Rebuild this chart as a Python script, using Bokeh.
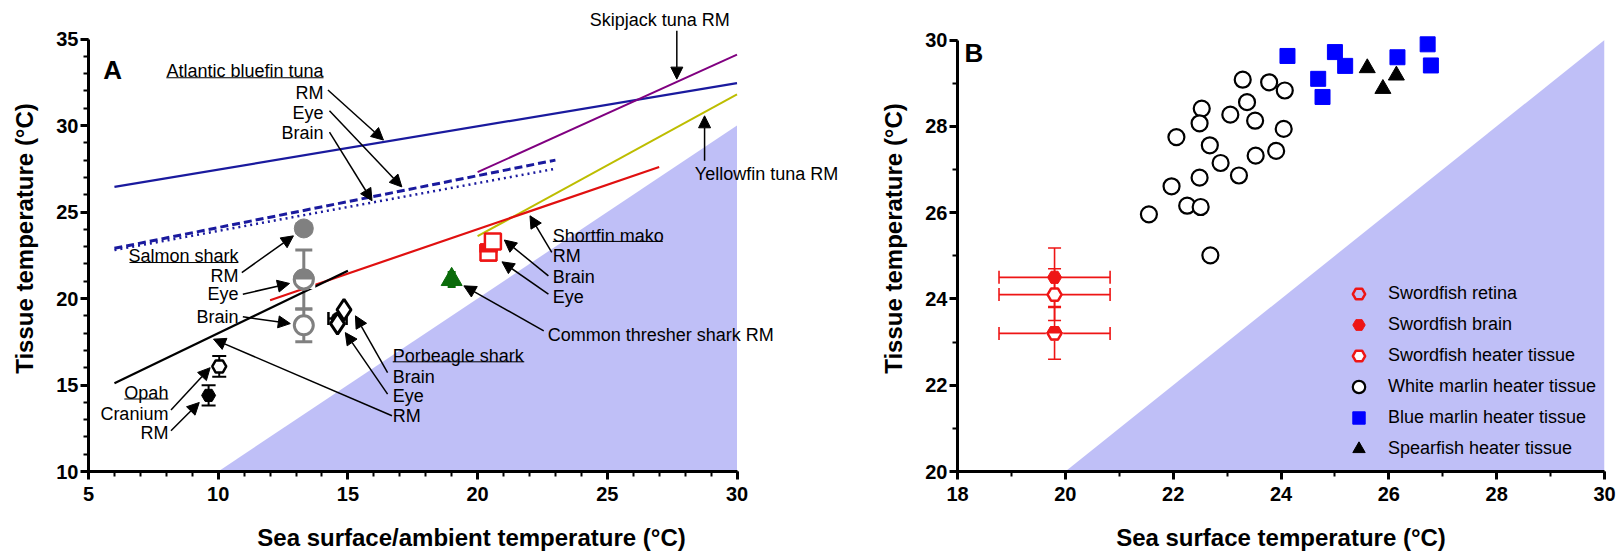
import math
from bokeh.plotting import figure
from bokeh.layouts import row
from bokeh.models import (Range1d, FixedTicker, ColumnDataSource, Whisker, TeeHead,
                          Arrow, NormalHead, Legend, LegendItem)
from bokeh.core.properties import value
from bokeh.embed import file_html
from bokeh.resources import INLINE

# ====================== DATA : panel A ======================
# regression lines (end points)
bluefin_rm_x = [6, 30];     bluefin_rm_y = [26.45, 32.45]
bluefin_eye_x = [6, 23];    bluefin_eye_y = [22.9, 28.0]
bluefin_brain_x = [6, 23];  bluefin_brain_y = [22.8, 27.5]
skipjack_rm_x = [20, 30];   skipjack_rm_y = [27.3, 34.1]
yellowfin_rm_x = [20, 30];  yellowfin_rm_y = [23.6, 31.8]
mako_rm_x = [12, 27];       mako_rm_y = [19.9, 27.6]
porbeagle_rm_x = [6, 15];   porbeagle_rm_y = [15.1, 21.6]

# salmon shark: RM, eye, brain
salmon_x = [13.3, 13.3, 13.3]
salmon_y = [24.05, 21.1, 18.45]
salmon_err = [0.25, 1.7, 0.95]
# opah: RM, cranium
opah_x = [9.63, 10.04]
opah_y = [14.4, 16.07]
opah_err = [0.58, 0.6]
# porbeagle shark: RM, eye, brain
porbeagle_x = [14.6, 14.6, 14.85]
porbeagle_y = [18.85, 18.55, 19.35]
porbeagle_rm_xerr = [0.35]
# shortfin mako: eye, brain
mako_x = [20.42, 20.59]
mako_y = [22.66, 23.3]
# common thresher shark RM
thresher_x = [19.0]
thresher_y = [21.1]
thresher_err = [0.4]

shade_a_x = [10, 30, 30]
shade_a_y = [10, 30, 10]
a_xticks = [5, 10, 15, 20, 25, 30]
a_yticks = [10, 15, 20, 25, 30, 35]

# ====================== DATA : panel B ======================
sword_x = [19.8, 19.8, 19.8]          # retina, brain, heater
sword_y = [23.2, 24.5, 24.1]
sword_yerr = [0.6, 0.68, 0.6]
sword_xerr = [1.03, 1.03, 1.03]

white_marlin_x = [23.29, 23.78, 24.07, 23.37, 22.53, 23.06, 22.49, 23.52, 22.06, 24.05,
                  22.68, 23.53, 23.91, 22.88, 23.22, 22.49, 21.97, 22.26, 22.51, 21.55, 22.69]
white_marlin_y = [29.08, 29.02, 28.83, 28.56, 28.41, 28.27, 28.07, 28.13, 27.75, 27.94,
                  27.56, 27.32, 27.43, 27.15, 26.86, 26.81, 26.61, 26.16, 26.13, 25.96, 25.01]
blue_marlin_x = [24.12, 25.0, 25.19, 24.69, 24.77, 26.16, 26.72, 26.78]
blue_marlin_y = [29.63, 29.72, 29.40, 29.10, 28.68, 29.60, 29.90, 29.41]
spearfish_x = [25.60, 26.14, 25.89]
spearfish_y = [29.35, 29.18, 28.87]

shade_b_x = [20, 30, 30]
shade_b_y = [20, 30, 20]
b_xticks = [18, 20, 22, 24, 26, 28, 30]
b_yticks = [20, 22, 24, 26, 28, 30]

# ====================== STYLE / LAYOUT ======================
FONT = "Liberation Sans"
SHADE = "#bfbff7"
NAVY = "#1a1a9e"
RED = "#ee1515"
GRAY = "#808080"

W_A, W_B, H = 862, 759, 554
BORDER_T, BORDER_B = 5, 83          # shared (row aligns frames)
A_L, A_R = 88, 8
B_L, B_R = 95, 17
PPU_AX, PPU_AY = 25.94, 17.3
PPU_BY = 43.15
FRAME_H = H - BORDER_T - BORDER_B
a_xend = 5 + (W_A - A_L - A_R) / PPU_AX
a_yend = 10 + FRAME_H / PPU_AY
b_yend = 20 + FRAME_H / PPU_BY


def style_axes(p, xticks, yticks, xminor, yminor, xlabel, ylabel):
    p.xaxis.ticker = FixedTicker(ticks=xticks, minor_ticks=xminor)
    p.yaxis.ticker = FixedTicker(ticks=yticks, minor_ticks=yminor)
    p.xaxis.bounds = (xticks[0], xticks[-1])
    p.yaxis.bounds = (yticks[0], yticks[-1])
    p.xaxis.axis_label = xlabel
    p.yaxis.axis_label = ylabel
    for ax in (p.xaxis, p.yaxis):
        ax.axis_line_width = 3
        ax.major_tick_line_width = 3
        ax.minor_tick_line_width = 2
        ax.major_tick_out = 8
        ax.major_tick_in = 0
        ax.minor_tick_out = 5
        ax.minor_tick_in = 0
        ax.major_label_text_font = FONT
        ax.major_label_text_font_style = "bold"
        ax.major_label_text_font_size = "20px"
        ax.axis_label_text_font = FONT
        ax.axis_label_text_font_style = "bold"
        ax.axis_label_text_font_size = "24px"
        ax.axis_label_text_color = "black"
        ax.major_label_text_color = "black"
    p.xaxis.major_label_standoff = 7
    p.yaxis.major_label_standoff = 2
    p.xaxis.axis_label_standoff = 20
    p.yaxis.axis_label_standoff = 15
    p.grid.visible = False
    p.outline_line_color = None


def half_filled(p, xs, ys, marker, size, color, lw, ppu_y):
    p.scatter(xs, ys, marker=marker, size=size, fill_color=color, line_color=color, line_width=lw)
    dy = size / 4.0 / ppu_y
    p.rect(xs, [y - dy for y in ys], width=size + lw + 1, height=size / 2.0,
           width_units="screen", height_units="screen", fill_color="white", line_color=None)
    return p.scatter(xs, ys, marker=marker, size=size, fill_color=None, line_color=color, line_width=lw)


def whisker(p, base, center, err, color, size, dim="height", lw=2):
    src = ColumnDataSource(dict(base=base, lo=[c - e for c, e in zip(center, err)],
                                hi=[c + e for c, e in zip(center, err)]))
    w = Whisker(source=src, base="base", lower="lo", upper="hi", dimension=dim,
                line_color=color, line_width=lw, level="underlay",
                upper_head=TeeHead(size=size, line_color=color, line_width=lw),
                lower_head=TeeHead(size=size, line_color=color, line_width=lw))
    p.add_layout(w)


# ====================== PANEL A ======================
pA = figure(width=W_A, height=H, x_range=Range1d(5, a_xend), y_range=Range1d(10, a_yend),
            output_backend="svg", toolbar_location=None,
            min_border_left=A_L, min_border_right=A_R, min_border_top=BORDER_T, min_border_bottom=BORDER_B)
style_axes(pA, a_xticks, a_yticks, list(range(5, 31)), list(range(10, 36)),
           "Sea surface/ambient temperature (\u00b0C)", "Tissue temperature (\u00b0C)")

pA.patch(shade_a_x, shade_a_y, fill_color=SHADE, line_color=None)

pA.line(bluefin_rm_x, bluefin_rm_y, line_color=NAVY, line_width=2.2)
pA.line(bluefin_eye_x, bluefin_eye_y, line_color=NAVY, line_width=3, line_dash="8 4")
pA.line(bluefin_brain_x, bluefin_brain_y, line_color=NAVY, line_width=2.5, line_dash="2 4")
pA.line(skipjack_rm_x, skipjack_rm_y, line_color="#800080", line_width=2)
pA.line(yellowfin_rm_x, yellowfin_rm_y, line_color="#bdbd00", line_width=2)
pA.line(mako_rm_x, mako_rm_y, line_color="#e01010", line_width=2.2)
pA.line(porbeagle_rm_x, porbeagle_rm_y, line_color="black", line_width=2.2)

# error bars
whisker(pA, salmon_x, salmon_y, salmon_err, GRAY, 17, lw=3)
whisker(pA, opah_x, opah_y, opah_err, "black", 14, lw=2)
whisker(pA, porbeagle_y[:1], porbeagle_x[:1], porbeagle_rm_xerr, "black", 13, dim="width", lw=2.5)
whisker(pA, thresher_x, thresher_y, thresher_err, "#0a6b0a", 8, lw=3)

# salmon shark
pA.scatter(salmon_x[:1], salmon_y[:1], marker="circle", size=19, color=GRAY)
half_filled(pA, salmon_x[1:2], salmon_y[1:2], "circle", 19, GRAY, 3, PPU_AY)
pA.scatter(salmon_x[2:], salmon_y[2:], marker="circle", size=19, fill_color="white",
           line_color=GRAY, line_width=3)
# opah
pA.scatter(opah_x[:1], opah_y[:1], marker="hex", size=14, color="black")
pA.scatter(opah_x[1:], opah_y[1:], marker="hex", size=14, fill_color="white",
           line_color="black", line_width=2.5)
# porbeagle
pA.scatter(porbeagle_x[:1], porbeagle_y[:1], marker="circle", size=12, color="black")
pA.scatter(porbeagle_x[1:], porbeagle_y[1:], marker="diamond", size=21, fill_color="white",
           line_color="black", line_width=3)
# shortfin mako
half_filled(pA, mako_x[:1], mako_y[:1], "square", 16, RED, 2.5, PPU_AY)
pA.scatter(mako_x[1:], mako_y[1:], marker="square", size=16, fill_color="white",
           line_color=RED, line_width=2.5)
# thresher
pA.scatter(thresher_x, thresher_y, marker="triangle", size=21, color="#0a6b0a")

# annotations (layout)
notes_right = [("Atlantic bluefin tuna", 14.06, 33.16), ("RM", 14.06, 31.9), ("Eye", 14.06, 30.7),
               ("Brain", 14.06, 29.56), ("Salmon shark", 10.78, 22.47), ("RM", 10.78, 21.31),
               ("Eye", 10.78, 20.25), ("Brain", 10.78, 18.94), ("Opah", 8.08, 14.51),
               ("Cranium", 8.08, 13.35), ("RM", 8.08, 12.2)]
notes_left = [("Porbeagle shark", 16.73, 16.69), ("Brain", 16.73, 15.49), ("Eye", 16.73, 14.34),
              ("RM", 16.73, 13.18), ("Shortfin mako", 22.9, 23.62), ("RM", 22.9, 22.43),
              ("Brain", 22.9, 21.25), ("Eye", 22.9, 20.1), ("Common thresher shark RM", 22.7, 17.88)]
notes_center = [("Skipjack tuna RM", 27.02, 36.09), ("Yellowfin tuna RM", 31.14, 27.19)]
for notes, align in ((notes_right, "right"), (notes_left, "left"), (notes_center, "center")):
    src = ColumnDataSource(dict(t=[n[0] for n in notes], x=[n[1] for n in notes], y=[n[2] for n in notes]))
    pA.text(x="x", y="y", text="t", source=src, text_font=value(FONT), text_font_size="18px",
            text_align=align, text_baseline="middle", text_color="black")

underlines = [(8.0, 14.06, 32.76), (6.58, 10.78, 22.08), (6.38, 8.08, 14.19),
              (16.73, 21.8, 16.34), (22.9, 27.14, 23.3)]
pA.segment(x0=[u[0] for u in underlines], x1=[u[1] for u in underlines],
           y0=[u[2] for u in underlines], y1=[u[2] for u in underlines],
           line_color="black", line_width=1)

arrows = [(14.23, 32.05, 16.37, 29.16), (14.29, 30.85, 17.08, 26.45), (14.29, 29.62, 15.93, 25.65),
          (10.91, 21.5, 12.9, 23.62), (10.95, 20.25, 12.75, 20.87), (10.95, 18.94, 12.78, 18.55),
          (8.18, 13.55, 9.69, 16.0), (8.18, 12.35, 9.27, 13.99),
          (16.7, 13.22, 9.82, 17.65), (16.53, 15.72, 15.29, 19.0), (16.53, 14.47, 14.9, 18.03),
          (22.86, 22.66, 22.02, 24.78), (22.73, 21.31, 21.03, 23.38), (22.73, 20.25, 20.94, 22.12),
          (22.55, 18.13, 19.47, 20.73), (27.68, 35.47, 27.68, 32.68), (28.75, 27.96, 28.75, 30.56)]
asrc = ColumnDataSource(dict(x0=[a[0] for a in arrows], y0=[a[1] for a in arrows],
                             x1=[a[2] for a in arrows], y1=[a[3] for a in arrows]))
pA.add_layout(Arrow(source=asrc, x_start="x0", y_start="y0", x_end="x1", y_end="y1",
                    line_color="black", line_width=1.5,
                    end=NormalHead(size=12, fill_color="black", line_color="black", line_width=1)))

pA.text(x=[5.57], y=[33.2], text=["A"], text_font=value(FONT), text_font_size="26px",
        text_font_style="bold", text_align="left", text_baseline="middle", text_color="black")

# ====================== PANEL B ======================
pB = figure(width=W_B, height=H, x_range=Range1d(18, 30), y_range=Range1d(20, b_yend),
            output_backend="svg", toolbar_location=None,
            min_border_left=B_L, min_border_right=B_R, min_border_top=BORDER_T, min_border_bottom=BORDER_B)
style_axes(pB, b_xticks, b_yticks, list(range(18, 31)), list(range(20, 31)),
           "Sea surface temperature (\u00b0C)", "Tissue temperature (\u00b0C)")

pB.patch(shade_b_x, shade_b_y, fill_color=SHADE, line_color=None)

whisker(pB, sword_x, sword_y, sword_yerr, RED, 13, lw=1.6)
whisker(pB, sword_y, sword_x, sword_xerr, RED, 13, dim="width", lw=1.6)

r_retina = half_filled(pB, sword_x[:1], sword_y[:1], "hex", 14, RED, 2.5, PPU_BY)
r_brain = pB.scatter(sword_x[1:2], sword_y[1:2], marker="hex", size=14, color=RED)
r_heater = pB.scatter(sword_x[2:], sword_y[2:], marker="hex", size=14, fill_color="white",
                      line_color=RED, line_width=2.5)
r_white = pB.scatter(white_marlin_x, white_marlin_y, marker="circle", size=16, fill_color="white",
                     line_color="black", line_width=2.2)
r_blue = pB.scatter(blue_marlin_x, blue_marlin_y, marker="square", size=15, color="#0000ff")
r_spear = pB.scatter(spearfish_x, spearfish_y, marker="triangle", size=16, color="black")

pB.text(x=[18.13], y=[29.7], text=["B"], text_font=value(FONT), text_font_size="26px",
        text_font_style="bold", text_align="left", text_baseline="middle", text_color="black")

legend = Legend(items=[LegendItem(label="Swordfish retina", renderers=[r_retina]),
                       LegendItem(label="Swordfish brain", renderers=[r_brain]),
                       LegendItem(label="Swordfish heater tissue", renderers=[r_heater]),
                       LegendItem(label="White marlin heater tissue", renderers=[r_white]),
                       LegendItem(label="Blue marlin heater tissue", renderers=[r_blue]),
                       LegendItem(label="Spearfish heater tissue", renderers=[r_spear])],
                location=(386, 7), glyph_width=31, glyph_height=31, label_height=20,
                spacing=0, padding=0, margin=0, label_standoff=14,
                border_line_color=None, background_fill_alpha=0,
                label_text_font=FONT, label_text_font_size="18px", label_text_color="black")
pB.add_layout(legend)

layout = row(pA, pB)
open("out.html", "w").write(file_html(layout, INLINE))
